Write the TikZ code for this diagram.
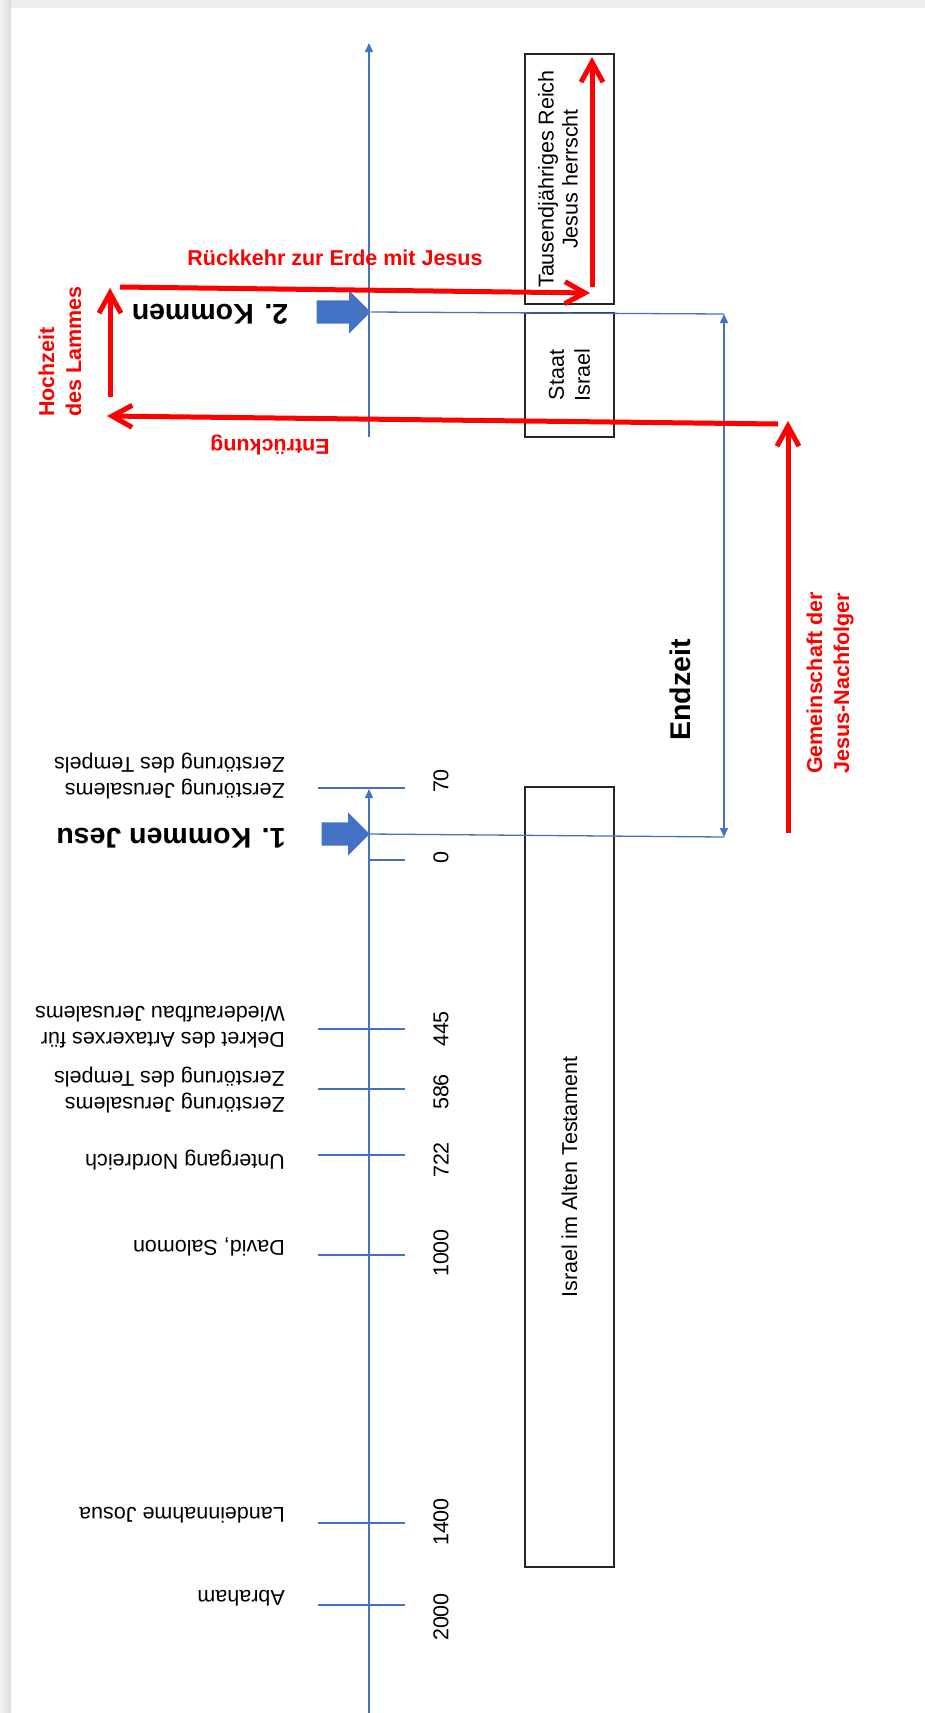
\documentclass[tikz,border=0pt]{standalone}
\usepackage{fontspec}
\setmainfont{Liberation Sans}
\usetikzlibrary{arrows.meta,shapes.arrows}
\definecolor{blau}{HTML}{4472C4}
\definecolor{rot}{HTML}{FF0000}
\tikzset{
  achse/.style={blau, line width=1.3pt},
  spitze/.style={-{Triangle[length=9pt,width=8pt]}},
  rotpfeil/.style={rot, line width=5pt, -{Straight Barb[length=20pt,width=22pt]}},
  kasten/.style={draw=black!85, line width=1.3pt, align=center, inner sep=0pt},
  normal/.style={font=\fontsize{21.5}{26}\selectfont},
  fett/.style={font=\bfseries\fontsize{28.5}{34}\selectfont},
  rottext/.style={text=rot, font=\bfseries\fontsize{21.5}{27}\selectfont},
  ereignis/.style={normal, rotate=180, anchor=west, align=left, inner sep=0pt},
  kommen/.style={single arrow, fill=blau, inner xsep=0pt, inner ysep=11.5pt,
    single arrow head extend=10pt, anchor=tip},
}
\begin{document}
\begin{tikzpicture}[x=1pt,y=-1pt]
	\useasboundingbox (0,0) rectangle (925,1713);
	\fill[black!7] (0,0) rectangle (925,8);
	\shade[left color=black!4, right color=black!14] (0,0) rectangle (11,1713);

	\coordinate (oben) at (369,43);
	\coordinate (obenfuss) at (369,437);
	\coordinate (unten) at (369,1713);
	\coordinate (untenspitze) at (369,789);
	\draw[achse, spitze] (obenfuss) -- (oben);
	\draw[achse, spitze] (unten) -- (untenspitze);

	\foreach \jahr/\ty/\ny in {70/788/781, 445/1029/1029, 586/1089/1092, 722/1155/1160, 1000/1255/1253, 1400/1523/1522, 2000/1605/1617}{
		\draw[achse] (318,\ty) -- (405,\ty);
		\node[normal, rotate=90] (j\jahr) at (441,\ny) {\jahr};
	}
	\draw[achse] (369,860) -- (405,860);
	\node[normal, rotate=90] (j0) at (441,858) {0};

	\foreach \n/\ey/\txt in {a/776/{Zerstörung Jerusalems\\Zerstörung des Tempels},
		b/1027/{Dekret des Artaxerxes für\\Wiederaufbau Jerusalems},
		c/1090/{Zerstörung Jerusalems\\Zerstörung des Tempels},
		d/1160/{Untergang Nordreich}, e/1247/{David, Salomon},
		f/1515/{Landeinnahme Josua}, g/1598/{Abraham}}{
		\node[ereignis] (ev\n) at (285,\ey) {\txt};
	}

	\node[kasten, minimum width=89pt, minimum height=250pt] (reich) at (569.5,179) {};
	\node[normal, rotate=90, align=center, font=\fontsize{21.5}{24}\selectfont] (reichtext) at (558,179) {Tausendjähriges Reich\\Jesus herrscht};
	\node[kasten, normal, rotate=90, minimum width=124pt, minimum height=89pt] (staat) at (569.5,375) {Staat\\Israel};
	\node[kasten, normal, rotate=90, minimum width=780pt, minimum height=89pt] (altes) at (569.5,1177) {Israel im Alten Testament};

	\node[kommen, minimum height=54pt] (pfeil2) at (371,312) {};
	\node[kommen, minimum height=48pt] (pfeil1) at (370,834) {};
	\node[fett, rotate=180] (k2) at (210,314) {2. Kommen};
	\node[fett, rotate=180] (k1) at (171,838) {1. Kommen Jesu};

	\coordinate (ez1) at (724,314);
	\coordinate (ez0) at (724,837);
	\draw[achse] (pfeil2.tip) -- (ez1);
	\draw[achse] (pfeil1.tip) -- (ez0);
	\draw[achse, {Triangle[length=9pt,width=8pt]}-{Triangle[length=9pt,width=8pt]}] (ez0) -- (ez1);
	\node[fett, rotate=90] (endzeit) at (680,690) {Endzeit};

	\coordinate (g0) at (788,833);
	\coordinate (g1) at (788,421);
	\coordinate (e0) at (778,424);
	\coordinate (e1) at (107,416);
	\coordinate (h0) at (110,397);
	\coordinate (h1) at (110,288);
	\coordinate (r0) at (120,287);
	\coordinate (r1) at (590,293);
	\coordinate (t0) at (592,287);
	\coordinate (t1) at (592,57);
	\draw[rotpfeil] (g0) -- (g1);
	\draw[rotpfeil] (e0) -- (e1);
	\draw[rotpfeil] (h0) -- (h1);
	\draw[rotpfeil] (r0) -- (r1);
	\draw[rotpfeil] (t0) -- (t1);

	\node[rottext, rotate=90, align=center] (gemein) at (830,683) {Gemeinschaft der\\Jesus-Nachfolger};
	\node[rottext, rotate=180] (entr) at (270,445) {Entrückung};
	\node[rottext, rotate=90, anchor=west, align=left, inner sep=0pt] (hochzeit) at (60,417) {Hochzeit\\des Lammes};
	\node[rottext] (rueck) at (335,258) {Rückkehr zur Erde mit Jesus};
\end{tikzpicture}
\end{document}
